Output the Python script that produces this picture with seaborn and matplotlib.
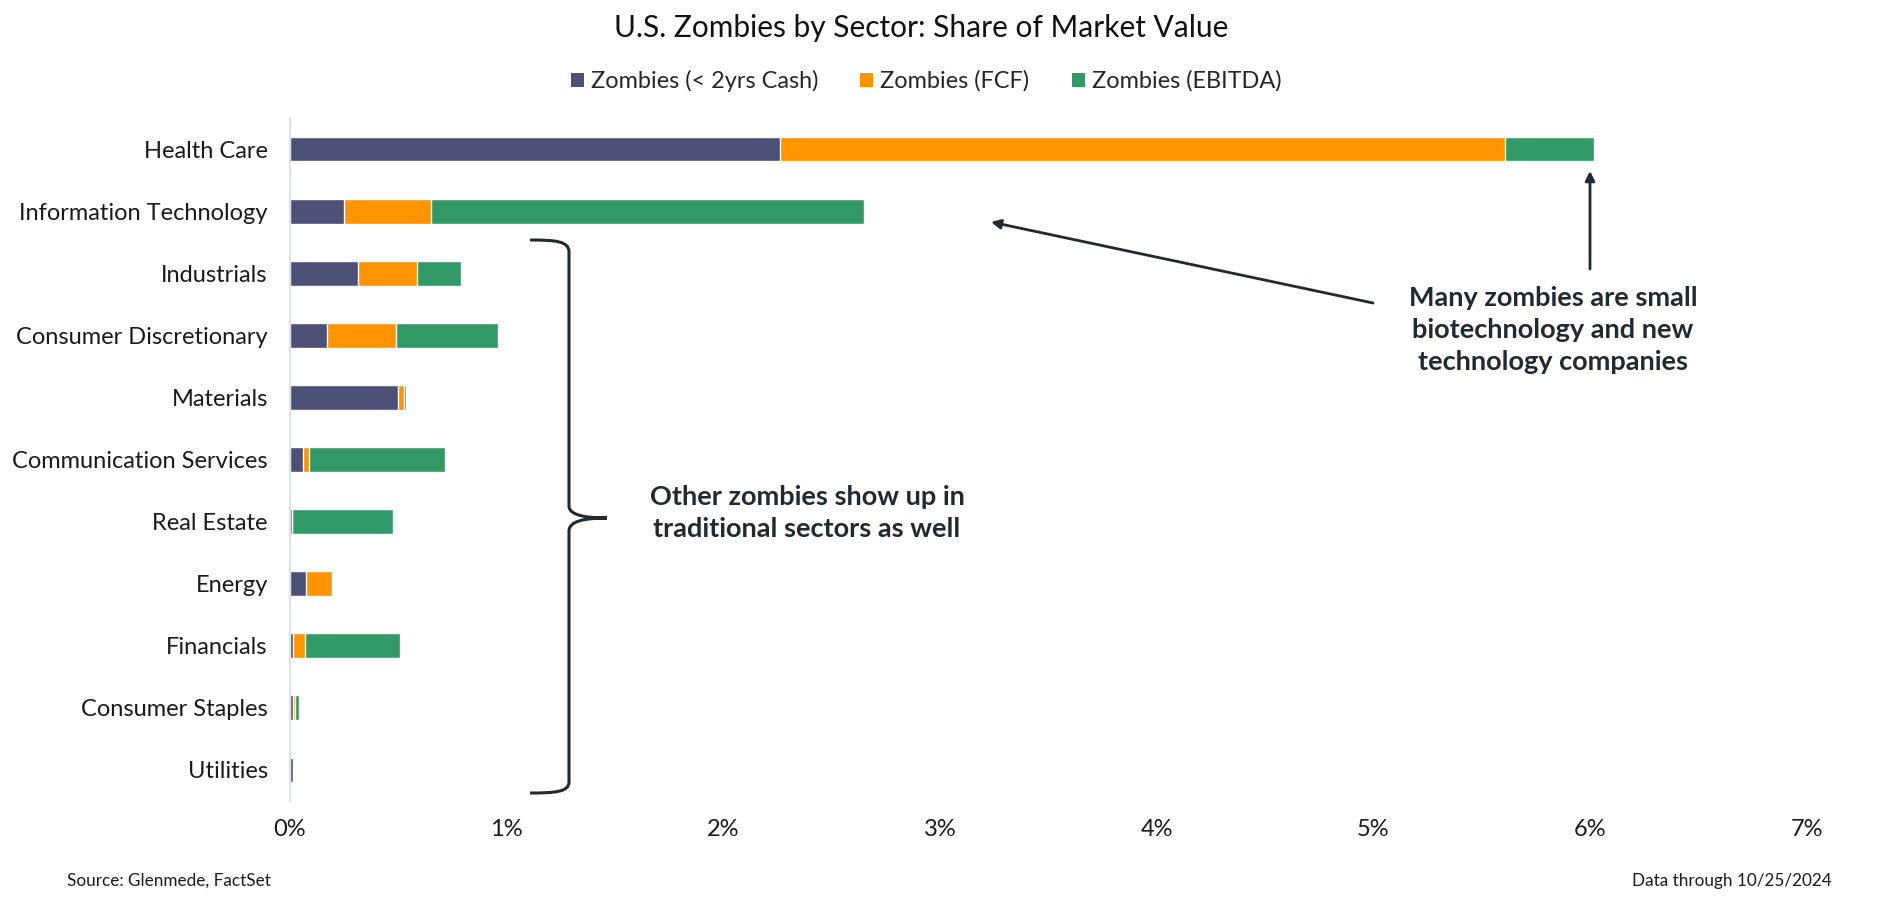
import matplotlib
matplotlib.use("Agg")
import matplotlib.pyplot as plt
from matplotlib.path import Path
from matplotlib.patches import PathPatch, Patch
import seaborn as sns
import pandas as pd

# values (% of market value)
sectors = ["Health Care", "Information Technology", "Industrials", "Consumer Discretionary",
           "Materials", "Communication Services", "Real Estate", "Energy", "Financials",
           "Consumer Staples", "Utilities"]
cash = [2.26, 0.25, 0.315, 0.17, 0.50, 0.06, 0.01, 0.075, 0.015, 0.012, 0.014]
fcf = [3.35, 0.40, 0.27, 0.32, 0.028, 0.028, 0.0, 0.12, 0.055, 0.013, 0.0]
ebitda = [0.41, 2.00, 0.205, 0.47, 0.008, 0.626, 0.465, 0.0, 0.44, 0.017, 0.0]
series_names = ["Zombies (< 2yrs Cash)", "Zombies (FCF)", "Zombies (EBITDA)"]

NAVY = "#4D5077"
ORANGE = "#FF9400"
GREEN = "#319966"
DARK = "#1F2A33"

W, H = 1900, 901


def fx(x):
    return x / W


def fy(y):
    return 1 - y / H


sns.set_theme(style="white")
plt.rcParams['font.family'] = ['Lato', 'DejaVu Sans']

df = pd.DataFrame({"sector": sectors, "cash": cash, "fcf": fcf, "ebitda": ebitda})
df["cash_fcf"] = df["cash"] + df["fcf"]
df["total"] = df["cash_fcf"] + df["ebitda"]

fig = plt.figure(figsize=(19, 9.01), dpi=100)
ax = fig.add_axes([fx(290), fy(801), (1806.6 - 290) / W, (801 - 118) / H])

# stacked bars: draw the cumulative totals back to front
sns.barplot(data=df, x="total", y="sector", color=GREEN, saturation=1, width=0.4,
            errorbar=None, orient="h", ax=ax)
sns.barplot(data=df, x="cash_fcf", y="sector", color=ORANGE, saturation=1, width=0.4,
            errorbar=None, orient="h", ax=ax)
sns.barplot(data=df, x="cash", y="sector", color=NAVY, saturation=1, width=0.4,
            errorbar=None, orient="h", ax=ax)

ax.set_xlim(0, 7)
ax.set_xticks(range(8))
ax.set_xticklabels([f"{i}%" for i in range(8)])
ax.set_xlabel("")
ax.set_ylabel("")
ax.tick_params(axis="x", length=0, pad=13, labelsize=17, labelcolor="#1a1a1a")
ax.tick_params(axis="y", length=0, pad=16, labelsize=17, labelcolor="#1a1a1a")
for s in ["top", "right", "bottom"]:
    ax.spines[s].set_visible(False)
ax.spines["left"].set_color("#DCE1E7")
ax.spines["left"].set_linewidth(1.5)

fig.text(fx(921), fy(28), "U.S. Zombies by Sector: Share of Market Value",
         ha="center", va="center", fontsize=21.5, color="#111111")

handles = [Patch(facecolor=c, edgecolor="none") for c in [NAVY, ORANGE, GREEN]]
fig.legend(handles, series_names, loc="center", bbox_to_anchor=(fx(926), fy(81)),
           ncol=3, frameon=False, fontsize=16.9, handlelength=0.55, handleheight=0.55,
           handletextpad=0.3, columnspacing=1.8)

# annotations
fig.text(fx(1553), fy(330), "Many zombies are small\nbiotechnology and new\ntechnology companies",
         ha="center", va="center", fontsize=19.5, fontweight="bold", color=DARK, linespacing=1.42)
fig.text(fx(807), fy(513), "Other zombies show up in\ntraditional sectors as well",
         ha="center", va="center", fontsize=19.5, fontweight="bold", color=DARK, linespacing=1.42)

arrow = dict(arrowstyle="-|>", color=DARK, lw=2, mutation_scale=14, shrinkA=0, shrinkB=0)
ax.annotate("", xy=(fx(991), fy(222)), xytext=(fx(1373), fy(303)),
            xycoords="figure fraction", textcoords="figure fraction", arrowprops=arrow)
ax.annotate("", xy=(fx(1590), fy(171)), xytext=(fx(1590), fy(269)),
            xycoords="figure fraction", textcoords="figure fraction", arrowprops=arrow)

# curly brace
pts = [(530, 240), (555, 240), (569, 241), (569, 252),
       (569, 506),
       (569, 515), (585, 518), (607, 518),
       (585, 518), (569, 521), (569, 531),
       (569, 782),
       (569, 792), (555, 793), (530, 793)]
codes = [Path.MOVETO, Path.CURVE4, Path.CURVE4, Path.CURVE4,
         Path.LINETO,
         Path.CURVE4, Path.CURVE4, Path.CURVE4,
         Path.CURVE4, Path.CURVE4, Path.CURVE4,
         Path.LINETO,
         Path.CURVE4, Path.CURVE4, Path.CURVE4]
brace = Path([(fx(x), fy(y)) for x, y in pts], codes)
fig.add_artist(PathPatch(brace, facecolor="none", edgecolor=DARK, lw=2.2,
                         transform=fig.transFigure))

fig.text(fx(67), fy(881), "Source: Glenmede, FactSet", ha="left", va="center",
         fontsize=12.3, color="#1a1a1a")
fig.text(fx(1832), fy(881), "Data through 10/25/2024", ha="right", va="center",
         fontsize=12.3, color="#1a1a1a")

fig.savefig("out.png", dpi=100)
